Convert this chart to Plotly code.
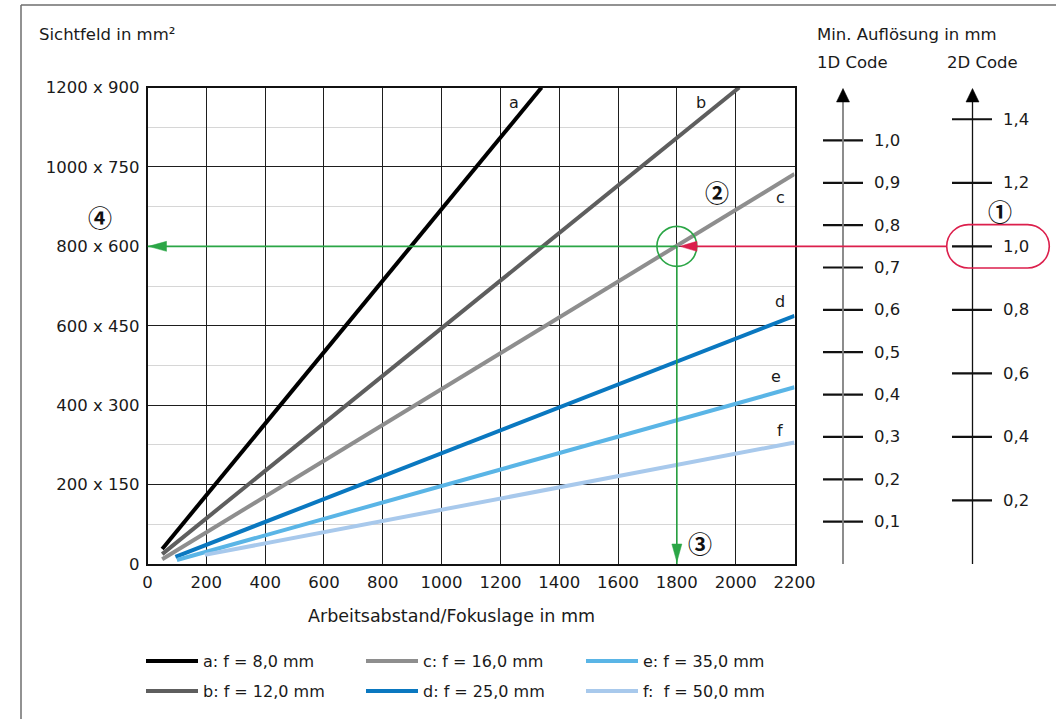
import plotly.graph_objects as go

# ---------------- data ----------------
series_letters = ["a", "b", "c", "d", "e", "f"]
series_names = ["a: f = 8,0 mm", "b: f = 12,0 mm", "c: f = 16,0 mm",
                "d: f = 25,0 mm", "e: f = 35,0 mm", "f:  f = 50,0 mm"]
wd_a = [50, 1340]
fov_a = [38, 1200]
wd_b = [50, 2012]
fov_b = [25, 1200]
wd_c = [50, 2200]
fov_c = [12, 982]
wd_d = [95, 2200]
fov_d = [18, 625]
wd_e = [100, 2200]
fov_e = [10, 445]
wd_f = [195, 2200]
fov_f = [23, 306]

x_ticks = [0, 200, 400, 600, 800, 1000, 1200, 1400, 1600, 1800, 2000, 2200]
y_tickvals = [0, 200, 400, 600, 800, 1000, 1200]
y_ticktext = ["0", "200 x 150", "400 x 300", "600 x 450", "800 x 600", "1000 x 750", "1200 x 900"]

res_1d = [0.1, 0.2, 0.3, 0.4, 0.5, 0.6, 0.7, 0.8, 0.9, 1.0]
res_1d_text = ["0,1", "0,2", "0,3", "0,4", "0,5", "0,6", "0,7", "0,8", "0,9", "1,0"]
res_2d = [0.2, 0.4, 0.6, 0.8, 1.0, 1.2, 1.4]
res_2d_text = ["0,2", "0,4", "0,6", "0,8", "1,0", "1,2", "1,4"]

example_wd = 1800
example_fov = 800
example_res_2d = 1.0

# ---------------- styles ----------------
colors = ["#000000", "#5e5e5e", "#8e8e8e", "#0a78c0", "#5ab5e6", "#a8c9ec"]
label_pos = [(1246, 1161), (1882, 1161), (2154, 924), (2151, 660), (2137, 471), (2151, 337)]
legend_ref = ["legend", "legend2", "legend", "legend2", "legend", "legend2"]
FONT = "DejaVu Sans, Liberation Sans, sans-serif"
TXT = "#1a1a1a"
GREEN = "#2ba646"
RED = "#dc1f4c"
W, H = 1056, 719
ML, MR, MT, MB = 30, 30, 20, 20
PW, PH = W - ML - MR, H - MT - MB
FS = 16.5


def px_x(p):
    return (p - ML) / PW


def px_y(p):
    return 1 - (p - MT) / PH


wds = [wd_a, wd_b, wd_c, wd_d, wd_e, wd_f]
fovs = [fov_a, fov_b, fov_c, fov_d, fov_e, fov_f]

fig = go.Figure()
for i in range(6):
    fig.add_trace(go.Scatter(
        x=wds[i], y=fovs[i], mode="lines", name=series_names[i],
        line=dict(color=colors[i], width=4), legend=legend_ref[i],
        xaxis="x", yaxis="y"))

# right-hand resolution scales (ticks) placed via their own y scales
tick_x_1d, tick_y_1d = [], []
for v in res_1d:
    tick_x_1d += [823, 863, None]
    tick_y_1d += [v, v, None]
fig.add_trace(go.Scatter(x=tick_x_1d, y=tick_y_1d, mode="lines",
                         line=dict(color="#111111", width=2.2),
                         xaxis="x2", yaxis="y3", showlegend=False, hoverinfo="skip"))
tick_x_2d, tick_y_2d = [], []
for v in res_2d:
    tick_x_2d += [952, 992, None]
    tick_y_2d += [v, v, None]
fig.add_trace(go.Scatter(x=tick_x_2d, y=tick_y_2d, mode="lines",
                         line=dict(color="#111111", width=2.2),
                         xaxis="x2", yaxis="y4", showlegend=False, hoverinfo="skip"))

annotations = []
for v, t in zip(res_1d, res_1d_text):
    annotations.append(dict(x=872, y=v, xref="x2", yref="y3", text=t, showarrow=False,
                            xanchor="left", yanchor="middle", font=dict(size=FS, color=TXT, family=FONT)))
for v, t in zip(res_2d, res_2d_text):
    annotations.append(dict(x=1001, y=v, xref="x2", yref="y4", text=t, showarrow=False,
                            xanchor="left", yanchor="middle", font=dict(size=FS, color=TXT, family=FONT)))

# series letters
for (lx, ly), s in zip(label_pos, series_letters):
    annotations.append(dict(x=lx, y=ly, xref="x", yref="y", text=s, showarrow=False,
                            xanchor="center", yanchor="middle", font=dict(size=16, color=TXT, family=FONT)))

# headers
annotations += [
    dict(x=px_x(37), y=px_y(34), xref="paper", yref="paper", text="Sichtfeld in mm²", showarrow=False,
         xanchor="left", yanchor="middle", font=dict(size=FS, color=TXT, family=FONT)),
    dict(x=px_x(815), y=px_y(34), xref="paper", yref="paper", text="Min. Auflösung in mm", showarrow=False,
         xanchor="left", yanchor="middle", font=dict(size=FS, color=TXT, family=FONT)),
    dict(x=px_x(815), y=px_y(62), xref="paper", yref="paper", text="1D Code", showarrow=False,
         xanchor="left", yanchor="middle", font=dict(size=FS, color=TXT, family=FONT)),
    dict(x=px_x(945), y=px_y(62), xref="paper", yref="paper", text="2D Code", showarrow=False,
         xanchor="left", yanchor="middle", font=dict(size=FS, color=TXT, family=FONT)),
    dict(x=px_x(451), y=px_y(616), xref="paper", yref="paper", text="Arbeitsabstand/Fokuslage in mm",
         showarrow=False, xanchor="center", yanchor="middle", font=dict(size=17.5, color=TXT, family=FONT)),
]
# circled step numbers
CIRC = "Noto Sans CJK JP, DejaVu Sans, sans-serif"
circ_font = dict(size=24, color="#111", family=CIRC, weight="bold")
annotations += [
    dict(x=1000, y=891, xref="x2", yref="y", text="①", showarrow=False, font=circ_font),
    dict(x=1936, y=939, xref="x", yref="y", text="②", showarrow=False, font=circ_font),
    dict(x=1879, y=53, xref="x", yref="y", text="③", showarrow=False, font=circ_font),
    dict(x=100, y=876, xref="x2", yref="y", text="④", showarrow=False, font=circ_font),
]

shapes = []
# outer frame lines
shapes.append(dict(type="line", xref="paper", yref="paper", x0=px_x(21), x1=px_x(21), y0=px_y(5), y1=px_y(H),
                   line=dict(color="#6e6e6e", width=1.5)))
shapes.append(dict(type="line", xref="paper", yref="paper", x0=px_x(21), x1=px_x(W), y0=px_y(5), y1=px_y(5),
                   line=dict(color="#6e6e6e", width=1.5)))
# scale axis lines and arrow heads
shapes.append(dict(type="line", xref="x2", yref="y", x0=843, x1=843, y0=0, y1=1168,
                   line=dict(color="#808080", width=1.8)))
shapes.append(dict(type="line", xref="x2", yref="y", x0=972.5, x1=972.5, y0=0, y1=1168,
                   line=dict(color="#111111", width=1.3)))
for ax_x in (843, 972.5):
    shapes.append(dict(type="path", xref="x2", yref="y", xsizemode="pixel", ysizemode="pixel",
                       xanchor=ax_x, yanchor=1200, path="M0,-1 L-6.5,-14.5 L6.5,-14.5 Z",
                       fillcolor="#000000", line=dict(color="#000000", width=0.5)))
# green reading lines
shapes.append(dict(type="line", xref="x", yref="y", x0=0, x1=example_wd, y0=example_fov, y1=example_fov,
                   line=dict(color=GREEN, width=1.6)))
shapes.append(dict(type="line", xref="x", yref="y", x0=example_wd, x1=example_wd, y0=example_fov, y1=0,
                   line=dict(color=GREEN, width=1.6)))
shapes.append(dict(type="path", xref="x", yref="y", xsizemode="pixel", ysizemode="pixel",
                   xanchor=0, yanchor=example_fov, path="M1,0 L19,5 L19,-5 Z",
                   fillcolor=GREEN, line=dict(color=GREEN, width=0.5)))
shapes.append(dict(type="path", xref="x", yref="y", xsizemode="pixel", ysizemode="pixel",
                   xanchor=example_wd, yanchor=0, path="M0,2 L-5,20 L5,20 Z",
                   fillcolor=GREEN, line=dict(color=GREEN, width=0.5)))
shapes.append(dict(type="circle", xref="x", yref="y", xsizemode="pixel", ysizemode="pixel",
                   xanchor=example_wd, yanchor=example_fov, x0=-20, x1=20, y0=-20, y1=20,
                   line=dict(color=GREEN, width=1.6)))
# red reading line + pill
shapes.append(dict(type="line", xref="x2", yref="y", x0=690, x1=946.7, y0=example_fov, y1=example_fov,
                   line=dict(color=RED, width=1.6)))
shapes.append(dict(type="path", xref="x", yref="y", xsizemode="pixel", ysizemode="pixel",
                   xanchor=example_wd, yanchor=example_fov, path="M3,0 L20,5 L20,-5 Z",
                   fillcolor=RED, line=dict(color=RED, width=0.5)))
pill = ("M-29.6,21.7 L29.6,21.7 C41.6,21.7 51.3,12 51.3,0 C51.3,-12 41.6,-21.7 29.6,-21.7 "
        "L-29.6,-21.7 C-41.6,-21.7 -51.3,-12 -51.3,0 C-51.3,12 -41.6,21.7 -29.6,21.7 Z")
shapes.append(dict(type="path", xref="paper", yref="y4", xsizemode="pixel", ysizemode="pixel",
                   xanchor=px_x(998), yanchor=example_res_2d, path=pill,
                   line=dict(color=RED, width=1.6)))

legend_common = dict(orientation="h", xanchor="left", yanchor="middle",
                     entrywidth=153, entrywidthmode="pixels", itemwidth=52,
                     font=dict(size=16, family=FONT, color=TXT),
                     bgcolor="rgba(0,0,0,0)", traceorder="normal")

fig.update_layout(
    width=W, height=H, autosize=False,
    margin=dict(l=ML, r=MR, t=MT, b=MB, autoexpand=False),
    paper_bgcolor="white", plot_bgcolor="rgba(0,0,0,0)",
    font=dict(family=FONT, size=FS, color=TXT),
    showlegend=True,
    legend=dict(x=px_x(141), y=px_y(661), **legend_common),
    legend2=dict(x=px_x(141), y=px_y(691), **legend_common),
    xaxis=dict(domain=[px_x(147.5), px_x(794.5)], range=[0, 2200], tickvals=x_ticks,
               showgrid=True, gridcolor="#1e1e1e", gridwidth=1, zeroline=False,
               showline=True, linecolor="#111111", linewidth=1.5, mirror=True, automargin=False,
               ticks="", ticklabelstandoff=2, tickfont=dict(size=FS, color=TXT), anchor="y"),
    yaxis=dict(domain=[px_y(564), px_y(87.5)], range=[0, 1200], tickvals=y_tickvals, ticktext=y_ticktext,
               showgrid=True, gridcolor="#1e1e1e", gridwidth=1, zeroline=False,
               minor=dict(tickvals=[100, 300, 500, 700, 900, 1100], showgrid=True, gridcolor="#d6d6d6", gridwidth=1),
               showline=True, linecolor="#111111", linewidth=1.5, mirror=True, automargin=False,
               ticks="", ticklabelstandoff=3, tickfont=dict(size=FS, color=TXT), anchor="x"),
    xaxis2=dict(domain=[0, 1], range=[ML, W - MR], visible=False, anchor="y", fixedrange=True, automargin=False),
    yaxis3=dict(overlaying="y", range=[0, 1.125], visible=False, anchor="x2", automargin=False),
    yaxis4=dict(overlaying="y", range=[0, 1.5], visible=False, anchor="x2", automargin=False),
    annotations=annotations,
    shapes=shapes,
)

fig.write_html("out.html", config={"displayModeBar": False},
               post_script="document.body.style.margin='0px';document.body.style.overflow='hidden';")
